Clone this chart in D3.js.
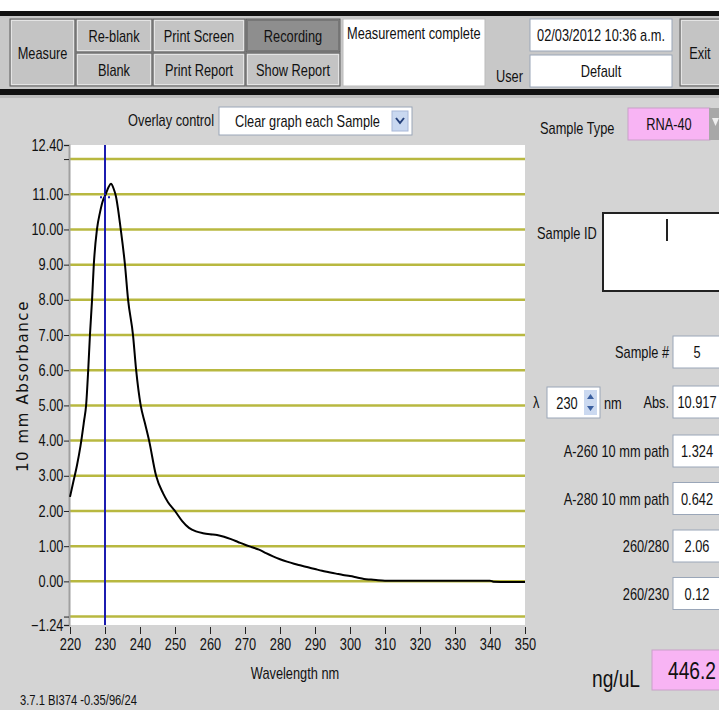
<!DOCTYPE html>
<html>
<head>
<meta charset="utf-8">
<script src="https://cdn.jsdelivr.net/npm/d3@7"></script>
<style>
  body { margin: 0; background: #d4d4d4; }
  svg { display: block; }
  text { font-family: "Liberation Sans", Arial, sans-serif; fill: #111; }
  .grid line { stroke: #b8b840; stroke-width: 2.5; }
  .axis line { stroke: #222; }
  .axis text { font-size: 16px; fill: #111; }
</style>
</head>
<body>
<script>
// spectrum (wavelength nm, 10 mm absorbance)
const wavelengths = [220, 221, 222, 223, 224, 224.6, 225.2, 225.7, 226.3, 226.8, 227.7, 228.6, 229.5, 230, 231, 231.7,
  232.5, 233.1, 234.5, 235.7, 236.6, 238, 238.9, 240.2, 241.4, 242.6, 244.6, 246.6, 248, 250, 252, 254, 256, 258, 260,
  262, 264, 266, 268, 270, 272, 274, 276, 278, 280, 282, 284, 286, 288, 290, 292, 294, 296, 298, 300, 302, 304, 306,
  308, 310, 320, 330, 340, 341, 350];
const absorbance = [2.40, 2.85, 3.30, 3.85, 4.55, 5.0, 6.0, 7.0, 8.0, 9.0, 10.0, 10.5, 10.85, 10.95, 11.2, 11.3,
  11.15, 10.95, 10.0, 9.0, 8.0, 7.0, 6.0, 5.0, 4.5, 4.0, 3.0, 2.5, 2.25, 2.0, 1.72, 1.52, 1.42, 1.37, 1.34,
  1.32, 1.27, 1.2, 1.12, 1.04, 0.97, 0.90, 0.80, 0.71, 0.63, 0.56, 0.50, 0.45, 0.40, 0.35, 0.30, 0.26, 0.22, 0.18, 0.15, 0.11, 0.07, 0.05,
  0.03, 0.02, 0.02, 0.02, 0.02, -0.01, -0.02];

const xTicks = [220, 230, 240, 250, 260, 270, 280, 290, 300, 310, 320, 330, 340, 350];
const yTicks = [12.4, 11, 10, 9, 8, 7, 6, 5, 4, 3, 2, 1, 0, -1.24];
const yMinorTicks = [12, -1];
const gridValues = [12, 11, 10, 9, 8, 7, 6, 5, 4, 3, 2, 1, 0, -1];
const cursorWavelength = 230;
const cursorAbs = 10.917;

// readout panel
const readoutLabels = ['A-260 10 mm path', 'A-280 10 mm path', '260/280', '260/230'];
const readoutValues = ['1.324', '0.642', '2.06', '0.12'];
const topButtons = [['Re-blank', 'Blank'], ['Print Screen', 'Print Report'], ['Recording', 'Show Report']];

const W = 719, H = 710;
const NARROW = 0.8;   // no Arial Narrow here, so squeeze the regular face
const svg = d3.select('body').append('svg').attr('width', W).attr('height', H);

const label = (x, y, str, size, anchor) => svg.append('text')
  .attr('transform', `translate(${x},${y}) scale(${NARROW},1)`)
  .attr('text-anchor', anchor || 'start').attr('font-size', size || 16).text(str);

// ---------- toolbar ----------
svg.append('rect').attr('x', 0).attr('y', 0).attr('width', W).attr('height', 11).attr('fill', '#fff');
svg.append('rect').attr('x', 0).attr('y', 11).attr('width', W).attr('height', 5).attr('fill', '#111');
svg.append('rect').attr('x', 0).attr('y', 16).attr('width', W).attr('height', 73).attr('fill', '#c8c8c8');
svg.append('rect').attr('x', 0).attr('y', 89).attr('width', W).attr('height', 6).attr('fill', '#111');
svg.append('rect').attr('x', 0).attr('y', 95).attr('width', W).attr('height', 3).attr('fill', '#bcbcbc');

const button = (x, y, w, h, text, dark, tx) => {
  svg.append('rect').attr('x', x).attr('y', y).attr('width', w).attr('height', h)
    .attr('fill', dark ? '#8e8e8e' : '#c4c4c4').attr('stroke', '#5a5a5a').attr('stroke-width', 1);
  svg.append('rect').attr('x', x + 1.5).attr('y', y + 1.5).attr('width', w - 3).attr('height', h - 3)
    .attr('fill', 'none').attr('stroke', dark ? '#777' : '#e4e4e4').attr('stroke-width', 1);
  label(tx || x + w / 2, y + h / 2 + 6, text, 16, 'middle');
};
button(10, 19, 65, 67, 'Measure', false);
const bx = [76, 153, 246];
const bw = [76, 92, 94];
topButtons.forEach((pair, i) => {
  button(bx[i], 19, bw[i], 33, pair[0], i === 2);
  button(bx[i], 53, bw[i], 33, pair[1], false);
});
const box = (x, y, w, h, fill, stroke) => svg.append('rect').attr('x', x).attr('y', y).attr('width', w).attr('height', h)
  .attr('fill', fill || '#fff').attr('stroke', stroke || '#9aa6b8').attr('stroke-width', 1);
box(343, 19, 142, 67, '#fff', '#bbb');
label(347, 39, 'Measurement complete');
label(496, 82, 'User');
box(530, 19, 142, 32);
label(601, 41, '02/03/2012  10:36 a.m.', 16, 'middle');
box(530, 55, 142, 32);
label(601, 77, 'Default', 16, 'middle');
button(680, 19, 50, 67, 'Exit', false, 700);

// ---------- overlay control ----------
label(214, 126, 'Overlay control', 16, 'end');
box(219, 107, 193, 28);
label(235, 127, 'Clear graph each Sample');
svg.append('rect').attr('x', 392).attr('y', 111).attr('width', 16).attr('height', 20).attr('fill', '#c9d8f0').attr('stroke', '#a8b8d8');
svg.append('path').attr('d', 'M396,118 L400,123 L404,118').attr('fill', 'none').attr('stroke', '#24407a').attr('stroke-width', 2);

// ---------- chart ----------
const x = d3.scaleLinear().domain([220, 350]).range([70, 525]);
const y = d3.scaleLinear().domain([-1.24, 12.4]).range([625, 145]);

svg.append('rect').attr('x', x(220)).attr('y', y(12.4)).attr('width', x(350) - x(220)).attr('height', y(-1.24) - y(12.4))
  .attr('fill', '#fff');

svg.append('g').attr('class', 'grid').selectAll('line').data(gridValues).join('line')
  .attr('x1', x(220)).attr('x2', x(350)).attr('y1', d => y(d)).attr('y2', d => y(d));

const yAxis = svg.append('g').attr('class', 'axis').attr('transform', `translate(${x(220) - 1},0)`)
  .call(d3.axisLeft(y).tickValues(yTicks).tickFormat(d3.format('.2f')).tickSize(5).tickPadding(2));
yAxis.select('.domain').attr('stroke', '#a0a0a0').attr('stroke-width', 2);
yAxis.selectAll('text').attr('transform', `scale(${NARROW},1)`);
svg.append('g').attr('class', 'axis').attr('transform', `translate(${x(220) - 1},0)`)
  .call(d3.axisLeft(y).tickValues(yMinorTicks).tickFormat('').tickSize(5))
  .select('.domain').remove();

const xAxis = svg.append('g').attr('class', 'axis').attr('transform', `translate(0,${y(-1.24) + 2})`)
  .call(d3.axisBottom(x).tickValues(xTicks).tickSize(7).tickPadding(5));
xAxis.select('.domain').remove();
xAxis.selectAll('text').attr('font-size', 17).attr('transform', `scale(${NARROW},1)`);

label(295, 679, 'Wavelength nm', 16, 'middle');
svg.append('text').attr('transform', 'translate(28,386) rotate(-90)').attr('text-anchor', 'middle')
  .style('font-family', '"DejaVu Sans", Verdana, sans-serif').attr('font-size', 15).attr('letter-spacing', 1.6)
  .attr('fill', '#333').text('10 mm Absorbance');

// cursor line
svg.append('line').attr('x1', x(cursorWavelength)).attr('x2', x(cursorWavelength))
  .attr('y1', y(12.4)).attr('y2', y(-1.24)).attr('stroke', '#1c1cb0').attr('stroke-width', 2);

const spectrum = wavelengths.map((w, i) => [w, absorbance[i]]);
svg.append('path').datum(spectrum)
  .attr('fill', 'none').attr('stroke', '#000').attr('stroke-width', 2).attr('stroke-linejoin', 'round')
  .attr('d', d3.line().x(d => x(d[0])).y(d => y(d[1])).curve(d3.curveMonotoneX));

// cursor marker
const cx = x(cursorWavelength), cy = y(cursorAbs);
svg.append('line').attr('x1', cx - 5).attr('x2', cx + 5).attr('y1', cy).attr('y2', cy)
  .attr('stroke', '#1c1cb0').attr('stroke-width', 2).attr('stroke-dasharray', '2,2');
svg.append('line').attr('x1', cx).attr('x2', cx).attr('y1', cy - 4).attr('y2', cy + 4)
  .attr('stroke', '#1c1cb0').attr('stroke-width', 2).attr('stroke-dasharray', '2,2');

label(20, 705, '3.7.1 BI374 -0.35/96/24', 14);

// ---------- right panel ----------
label(540, 134, 'Sample Type');
box(628, 108, 82, 32, '#f8b4f4', '#c8a0c8');
label(669, 130, 'RNA-40', 16, 'middle');
svg.append('rect').attr('x', 709).attr('y', 108).attr('width', 12).attr('height', 32).attr('fill', '#a8a8a8');
svg.append('path').attr('d', 'M712,118 L719,118 L715.5,126 Z').attr('fill', '#eee');

label(537, 239, 'Sample ID');
box(603, 213, 120, 78, '#fff', '#222').attr('stroke-width', 2);
svg.append('line').attr('x1', 667).attr('x2', 667).attr('y1', 219).attr('y2', 241).attr('stroke', '#222').attr('stroke-width', 2);

const rightField = (text, value, cyv) => {
  label(669, cyv + 6, text, 16, 'end');
  box(673, cyv - 16, 50, 32);
  label(697, cyv + 6, value, 16, 'middle');
};
rightField('Sample #', '5', 352);
rightField('Abs.', cursorAbs.toFixed(3), 402);
readoutLabels.forEach((l, i) => rightField(l, readoutValues[i], 451 + i * 47.5));

// lambda spinner
label(533, 408, 'λ');
box(547, 387, 53, 31);
label(567, 409, cursorWavelength, 16, 'middle');
svg.append('rect').attr('x', 584).attr('y', 390).attr('width', 13).attr('height', 25).attr('fill', '#cbd9f0');
svg.append('path').attr('d', 'M587,399 L590.5,394 L594,399 Z M587,406 L590.5,411 L594,406 Z').attr('fill', '#3a5fa0');
label(604, 409, 'nm');

label(640, 687, 'ng/uL', 24, 'end');
box(652, 650, 72, 40, '#f8b4f4', '#c8a0c8');
label(692, 679, '446.2', 24, 'middle');
</script>
</body>
</html>
